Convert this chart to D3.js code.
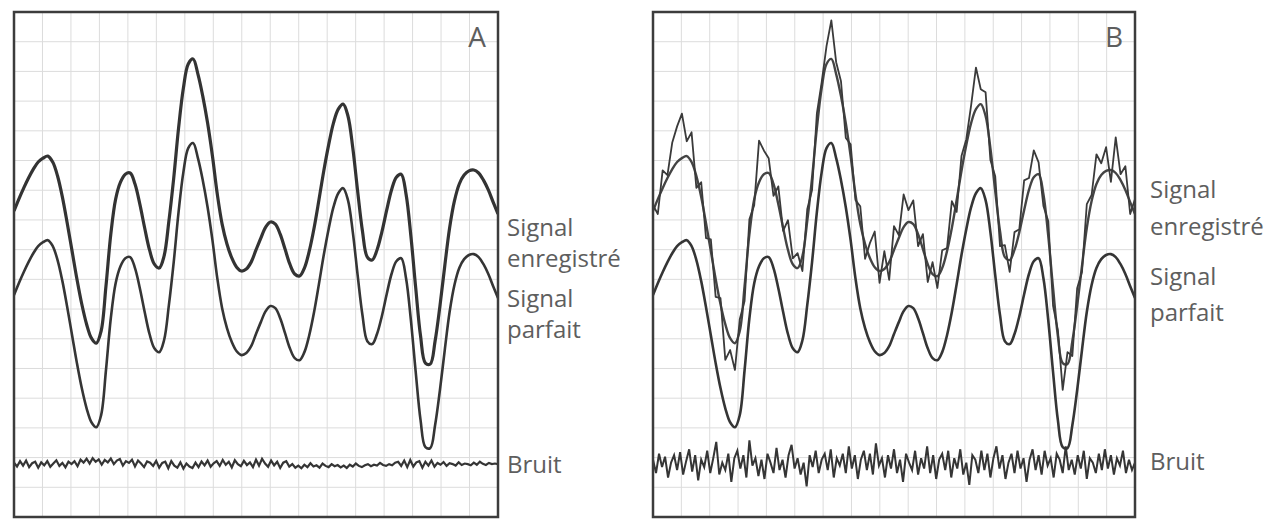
<!DOCTYPE html>
<html>
<head>
<meta charset="utf-8">
<script src="https://cdn.jsdelivr.net/npm/d3@7"></script>
<style>
  body { margin: 0; background: #fff; }
  text { font-family: "Open Sans", sans-serif; fill: #5e5e5e; }
</style>
</head>
<body>
<svg width="1274" height="520"></svg>
<script>
// Signal parfait at t = 0..100 (grid divisions, 0 = mid level)
var perfect = [0.17, 0.57, 0.94, 1.28, 1.58, 1.82, 1.95, 2.02, 1.82, 1.35,
    0.64, -0.24, -1.18, -2.12, -2.96, -3.64, -4.11, -4.28, -3.87, -2.36,
    -0.61, 0.57, 1.14, 1.41, 1.45, 1.08, 0.40, -0.40, -1.14, -1.62,
    -1.75, -1.35, -0.17, 1.28, 2.96, 4.31, 5.12, 5.29, 4.78, 4.04,
    3.13, 2.02, 0.74, -0.27, -0.94, -1.41, -1.72, -1.85, -1.78, -1.55,
    -1.14, -0.74, -0.37, -0.20, -0.27, -0.61, -1.11, -1.62, -1.95, -2.02,
    -1.75, -1.18, -0.40, 0.54, 1.52, 2.39, 3.13, 3.60, 3.77, 3.37,
    2.29, 0.84, -0.51, -1.38, -1.48, -1.14, -0.54, 0.20, 0.88, 1.31,
    1.41, 0.74, -0.67, -2.42, -4.04, -4.95, -4.98, -4.21, -3.03, -1.68,
    -0.40, 0.51, 1.08, 1.38, 1.52, 1.55, 1.45, 1.21, 0.88, 0.47, 0.07];

// extra disturbance on the recorded signal of panel B (same t grid)
var recordedNoiseB = [0.2, -0.5, 0.6, 0.1, 0.9, 1.2, 1.5, 0.5, 1.0, -0.4,
    0.5, -0.5, 0.4, -0.6, 0.2, -1.2, -0.4, -0.9, 0.4, -0.5,
    0.5, -0.2, 1.4, 0.8, 0.5, -0.4, 0.6, -0.1, 1.0, 0.2,
    0.5, -0.5, 0.4, -0.4, 0.5, 0.2, 0.6, 1.3, 0.4, 0.5,
    -0.5, 0.4, -0.2, 0.6, -0.5, 0.5, 1.2, -0.4, 0.6, -0.6,
    0.8, 0.1, 1.1, 0.4, 0.8, -0.4, 0.5, -0.6, 0.4, -0.4,
    0.6, 0.1, 0.9, -0.4, 0.5, 0.2, 0.6, 1.4, 0.5, 0.8,
    -0.4, 0.5, -0.5, 0.4, -0.4, 0.6, 0.1, 1.0, 0.4, 0.9,
    0.4, -0.4, 0.5, -0.6, 0.2, -0.9, 0.4, -0.5, 0.6, -0.2,
    0.8, 0.2, 1.0, 0.4, 0.8, -0.4, 1.2, 0.2, 0.8, -0.4, 0.5];

// Bruit traces, 161 samples over the same sweep
var noiseA = [0.05, -0.08, 0.1, -0.05, 0.12, -0.1, 0.03, 0.08, -0.12, 0.06,
    -0.04, 0.1, -0.09, 0.02, 0.13, -0.06, 0.04, -0.11, 0.08, 0.0,
    0.1, -0.07, 0.15, 0.05, 0.18, 0.02, 0.2, 0.08, 0.16, -0.02,
    0.14, 0.06, 0.19, 0.0, 0.12, 0.17, -0.05, 0.1, 0.04, 0.15,
    -0.08, 0.12, 0.02, -0.1, 0.09, 0.05, -0.06, 0.11, -0.12, 0.04,
    0.08, -0.14, 0.1, -0.05, -0.12, 0.06, -0.15, 0.02, -0.08, -0.13,
    0.05, -0.1, 0.09, -0.04, 0.12, -0.09, 0.03, 0.1, -0.06, 0.14,
    -0.02, 0.08, -0.11, 0.13, 0.0, -0.07, 0.11, -0.03, 0.06, -0.1,
    0.15, -0.05, 0.18, 0.02, -0.09, 0.12, -0.04, 0.08, -0.13, 0.05,
    0.1, -0.08, 0.0, -0.12, -0.05, -0.14, -0.02, -0.1, 0.03, -0.08,
    -0.04, -0.12, 0.02, -0.06, -0.1, 0.0, -0.07, -0.03, -0.11, -0.05,
    -0.13, -0.02, -0.08, 0.02, -0.06, -0.1, -0.04, 0.0, -0.07, -0.02,
    -0.05, 0.04, -0.03, -0.06, 0.0, -0.04, 0.05, 0.08, -0.06, 0.12,
    -0.1, 0.14, -0.08, 0.06, 0.1, -0.12, 0.08, -0.05, 0.12, -0.09,
    0.04, -0.02, 0.07, -0.06, 0.03, 0.0, -0.05, 0.06, -0.03, 0.02,
    0.0, -0.04, 0.05, -0.02, 0.08, 0.01, -0.03, 0.04, 0.0, 0.02, 0.0];

var noiseB = [0.15, -0.3, 0.35, -0.1, 0.25, -0.45, 0.05, 0.3, -0.2, 0.4,
    -0.35, 0.1, 0.5, -0.25, 0.3, -0.55, 0.15, -0.1, 0.45, -0.3,
    0.2, 0.75, -0.35, 0.05, -0.2, 0.35, -0.6, 0.2, 0.45, -0.15,
    0.3, -0.45, 0.8, -0.05, 0.2, -0.4, 0.15, -0.5, 0.35, 0.05,
    -0.3, 0.55, -0.2, 0.15, -0.45, 0.3, 0.65, -0.15, 0.2, -0.35,
    0.05, -0.75, 0.3, -0.1, 0.45, -0.3, 0.15, 0.35, -0.2, 0.5,
    -0.45, 0.2, -0.05, 0.35, -0.3, 0.6, -0.15, 0.3, -0.5, 0.15,
    0.45, -0.2, 0.35, -0.35, 0.7, -0.05, 0.2, -0.45, 0.3, -0.15,
    0.5, -0.3, 0.15, -0.6, 0.35, 0.05, -0.2, 0.45, -0.35, 0.2,
    -0.15, 0.6, -0.3, 0.3, -0.5, 0.15, 0.35, -0.2, 0.45, -0.45,
    0.2, -0.15, 0.5, -0.35, 0.05, -0.7, 0.3, 0.15, -0.3, 0.45,
    -0.2, 0.35, -0.45, 0.2, 0.6, -0.15, 0.3, -0.5, 0.05, 0.35,
    -0.3, 0.45, -0.15, 0.2, -0.6, 0.15, 0.5, -0.2, 0.3, -0.35,
    0.45, -0.05, 0.2, -0.45, 0.35, 0.15, -0.3, 0.6, -0.2, 0.15,
    -0.35, 0.3, -0.15, 0.45, -0.5, 0.2, 0.05, -0.3, 0.35, -0.2,
    0.5, -0.15, 0.3, -0.35, 0.2, -0.05, 0.45, -0.3, 0.15, -0.2, 0.05];

var panelNames = ["A", "B"];
var labelRecorded = ["Signal", "enregistré"];
var labelPerfect = ["Signal", "parfait"];
var labelNoise = "Bruit";

// trace levels (in grid divisions) and layout
var recordedLevel = 2.83;
var noiseLevel = -5.52;
var panels = [
    { name: "A", left: 14, right: 498, recNoise: null, noise: noiseA,
      recY: [236, 267], perfY: [307, 338], noiseY: 473, labelX: 507 },
    { name: "B", left: 653, right: 1135, recNoise: recordedNoiseB, noise: noiseB,
      recY: [198, 235], perfY: [285, 321], noiseY: 470, labelX: 1150 }
];
var plotTop = 12, plotBottom = 517;

var svg = d3.select("svg");

var yScale = d3.scaleLinear().domain([-7.3, 9.7]).range([plotBottom, plotTop]);

panels.forEach(function(p, pi) {
    var xScale = d3.scaleLinear().domain([0, 100]).range([p.left, p.right]);
    var g = svg.append("g");

    g.append("clipPath").attr("id", "clip" + p.name)
        .append("rect")
        .attr("x", p.left).attr("y", plotTop)
        .attr("width", p.right - p.left).attr("height", plotBottom - plotTop);

    // grid, 17 divisions each way
    var gx = d3.scaleLinear().domain([0, 17]).range([p.left, p.right]);
    var gy = d3.scaleLinear().domain([0, 17]).range([plotBottom, plotTop]);
    g.append("g").selectAll("line")
        .data(d3.range(1, 17))
        .enter().append("line")
        .attr("x1", d => gx(d)).attr("x2", d => gx(d))
        .attr("y1", plotTop).attr("y2", plotBottom)
        .attr("stroke", "#dcdcdc").attr("stroke-width", 1);
    g.append("g").selectAll("line")
        .data(d3.range(1, 17))
        .enter().append("line")
        .attr("y1", d => gy(d)).attr("y2", d => gy(d))
        .attr("x1", p.left).attr("x2", p.right)
        .attr("stroke", "#dcdcdc").attr("stroke-width", 1);

    var traces = g.append("g").attr("clip-path", "url(#clip" + p.name + ")");

    var smooth = d3.line()
        .x(d => xScale(d.t))
        .y(d => yScale(d.v))
        .curve(d3.curveCatmullRom);
    var rough = d3.line()
        .x(d => xScale(d.t))
        .y(d => yScale(d.v));

    // signal parfait
    var perfData = perfect.map((v, i) => ({ t: i, v: v }));
    traces.append("path")
        .attr("d", smooth(perfData))
        .attr("fill", "none").attr("stroke", "#353535").attr("stroke-width", 2.6);

    // signal enregistré
    var recData = perfect.map((v, i) => ({ t: i, v: v + recordedLevel }));
    traces.append("path")
        .attr("d", smooth(recData))
        .attr("fill", "none").attr("stroke", p.recNoise ? "#444" : "#333")
        .attr("stroke-width", p.recNoise ? 2.4 : 3.2);
    if (p.recNoise) {
        var noisyData = perfect.map((v, i) => ({ t: i, v: v + p.recNoise[i] + recordedLevel }));
        traces.append("path")
            .attr("d", rough(noisyData))
            .attr("fill", "none").attr("stroke", "#3a3a3a").attr("stroke-width", 1.8)
            .attr("stroke-linejoin", "round");
    }

    // bruit
    var nStep = 100 / (p.noise.length - 1);
    var noiseData = p.noise.map((v, i) => ({ t: i * nStep, v: v + noiseLevel }));
    traces.append("path")
        .attr("d", rough(noiseData))
        .attr("fill", "none").attr("stroke", "#353535")
        .attr("stroke-width", p.recNoise ? 2.0 : 2.2);

    // frame
    g.append("rect")
        .attr("x", p.left).attr("y", plotTop)
        .attr("width", p.right - p.left).attr("height", plotBottom - plotTop)
        .attr("fill", "none").attr("stroke", "#3c3c3c").attr("stroke-width", 2.5);

    g.append("text")
        .attr("x", p.right - 21).attr("y", 47)
        .attr("text-anchor", "middle")
        .style("font-size", "28px")
        .text(panelNames[pi]);

    // labels on the right
    var lab = g.append("g").style("font-size", "24px");
    labelRecorded.forEach(function(s, k) {
        lab.append("text").attr("x", p.labelX).attr("y", p.recY[k]).text(s);
    });
    labelPerfect.forEach(function(s, k) {
        lab.append("text").attr("x", p.labelX).attr("y", p.perfY[k]).text(s);
    });
    lab.append("text").attr("x", p.labelX).attr("y", p.noiseY).text(labelNoise);
});
</script>
</body>
</html>
